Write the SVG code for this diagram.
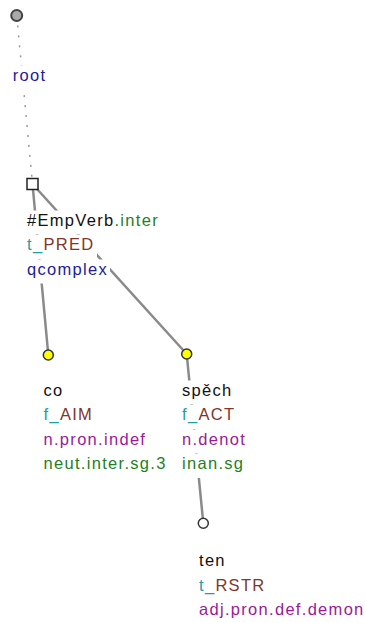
<svg xmlns="http://www.w3.org/2000/svg" width="366" height="623" viewBox="0 0 366 623">
<style>
text{font-family:"Liberation Sans",Arial,sans-serif;font-size:16.5px;letter-spacing:1.3px}
.bg{fill:#fff}
.edge{stroke:#8a8a8a;stroke-width:2.5;fill:none}
.dot{stroke:#9a9a9a;stroke-width:1.5;stroke-dasharray:2 8;fill:none}
.k{fill:#111}
.g{fill:#1f801f}
.t{fill:#1ea0a0}
.b{fill:#80362a}
.p{fill:#9a1a9a}
.n{fill:#1c1c9c}
.ring{stroke:#333;stroke-width:1.5}
</style>
<rect width="366" height="623" fill="#fff"/>
<g id="connectors">
<line class="dot" x1="16.7" y1="15.5" x2="32.5" y2="184"/>
<line class="edge" x1="32.5" y1="184" x2="48.3" y2="355"/>
<line class="edge" x1="32.5" y1="184" x2="186.7" y2="354"/>
<line class="edge" x1="186.7" y1="354" x2="203.3" y2="523.3"/>
</g>
<g id="node-root">
<circle cx="16.7" cy="15.5" r="5.5" fill="#aaaaaa" stroke="#444" stroke-width="2"/>
<rect class="bg" x="11.7" y="65.5" width="35" height="24"/>
<text x="12.7" y="80.5" class="n">root</text>
</g>
<g id="node-empverb">
<rect class="bg" x="26" y="210.5" width="136" height="24"/>
<rect class="bg" x="26" y="235" width="71" height="24"/>
<rect class="bg" x="26" y="259.5" width="84" height="24"/>
<text x="27" y="225.5"><tspan class="k">#EmpVerb</tspan><tspan class="g">.inter</tspan></text>
<text x="27" y="250"><tspan class="t">t_</tspan><tspan class="b">PRED</tspan></text>
<text x="27" y="274.5" class="n">qcomplex</text>
<rect x="27" y="178.5" width="11" height="11" fill="#fff" stroke="#222" stroke-width="1.5"/>
</g>
<g id="node-co">
<circle cx="48.3" cy="355" r="5" fill="#ffff00" class="ring"/>
<rect class="bg" x="42.5" y="380.5" width="23" height="24"/>
<rect class="bg" x="42.5" y="405" width="52" height="24"/>
<rect class="bg" x="42.5" y="429.5" width="105" height="24"/>
<rect class="bg" x="42.5" y="454" width="126" height="24"/>
<text x="43.5" y="395.5" class="k">co</text>
<text x="43.5" y="420"><tspan class="t">f_</tspan><tspan class="b">AIM</tspan></text>
<text x="43.5" y="444.5" class="p">n.pron.indef</text>
<text x="43.5" y="469" class="g">neut.inter.sg.3</text>
</g>
<g id="node-spech">
<circle cx="186.7" cy="354" r="5" fill="#ffff00" class="ring"/>
<rect class="bg" x="181" y="380.5" width="52" height="24"/>
<rect class="bg" x="181" y="405" width="56" height="24"/>
<rect class="bg" x="181" y="429.5" width="67" height="24"/>
<rect class="bg" x="181" y="454" width="65" height="24"/>
<text x="182" y="395.5" class="k">spěch</text>
<text x="182" y="420"><tspan class="t">f_</tspan><tspan class="b">ACT</tspan></text>
<text x="182" y="444.5" class="p">n.denot</text>
<text x="182" y="469" class="g">inan.sg</text>
</g>
<g id="node-ten">
<circle cx="203.3" cy="523.3" r="5" fill="#ffffff" class="ring"/>
<text x="199" y="566" class="k">ten</text>
<text x="199" y="590.5"><tspan class="t">t_</tspan><tspan class="b">RSTR</tspan></text>
<text x="199" y="615" class="p">adj.pron.def.demon</text>
</g>
</svg>
